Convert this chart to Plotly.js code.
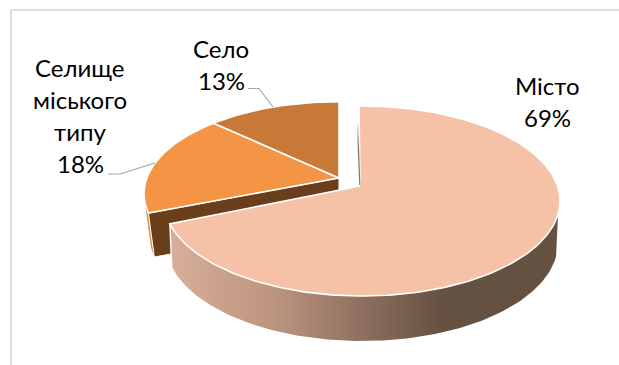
<!DOCTYPE html>
<html>
<head>
<meta charset="utf-8">
<script src="https://cdn.plot.ly/plotly-3.0.1.min.js"></script>
<style>html,body{margin:0;padding:0;background:#fff}</style>
</head>
<body>
<div id="chart" style="width:619px;height:365px"></div>
<script>
// Settlement shares, clockwise from twelve o'clock
const categories = ['Місто', 'Селище<br>міського<br>типу', 'Село'];
const shares = [69, 18, 13];
const faceColors = ['#F6C2A7', '#F39545', '#C77A38'];
const cutColor = '#6B3E1B';
const leaderColor = '#A6A6A6';

const total = shares.reduce((a, b) => a + b, 0);
const startDeg = [0];
shares.forEach((v, i) => startDeg.push(startDeg[i] + v / total * 360));

// Plotly has no tilted pie, so each disc is projected by hand: a homography
// keeps the rim elliptical while pulling the hub towards the far edge.
const frontDisc = {
  top: {cx: 362, hx: 360, cy: 201, rx: 198, ry: 95, a: 0.158, rot: -1},
  bottom: {cx: 362, hx: 360, cy: 243, rx: 196, ry: 98, a: 0.158, rot: -1}
};
const backDisc = {
  top: {cx: 339, hx: 339, cy: 193.6, rx: 195, ry: 92, a: 0.17, rot: 0},
  bottom: {cx: 340, hx: 339, cy: 238.4, rx: 190, ry: 88, a: 0.17, rot: 0}
};

function rimPoint(d, deg) {
  const t = (deg + d.rot) * Math.PI / 180, u = Math.sin(t), v = Math.cos(t);
  const w = 1 + d.a * v;
  return [d.cx + d.rx * u * Math.sqrt(1 - d.a * d.a) / w, d.cy - d.ry * (v + d.a) / w];
}
function hub(d) { return [d.hx, d.cy - d.ry * d.a]; }
function arc(d, from, to) {
  const pts = [], n = Math.max(2, Math.ceil(Math.abs(to - from)));
  for (let i = 0; i <= n; i++) pts.push(rimPoint(d, from + (to - from) * i / n));
  return pts;
}
function poly(pts, extra) {
  return Object.assign({
    type: 'scatter', mode: 'lines', hoverinfo: 'skip', showlegend: false,
    x: pts.map(p => p[0]), y: pts.map(p => p[1]), fill: 'toself',
    line: {width: 0}
  }, extra);
}
function wedge(d, from, to) { return [hub(d)].concat(arc(d, from, to), [hub(d)]); }
const rimEdge = {color: '#FFFFFF', width: 1.6};
const cutEnd = startDeg[1];
const wallStart = 108;

const traces = [];

// Far disc: outer wall sliver, cut face, then the two top faces
traces.push(poly(arc(backDisc.top, cutEnd, cutEnd + 9).concat(arc(backDisc.bottom, cutEnd + 6, cutEnd)),
  {fillcolor: '#E98D40'}));
traces.push(poly([hub(backDisc.top), rimPoint(backDisc.top, cutEnd),
                  rimPoint(backDisc.bottom, cutEnd), hub(backDisc.bottom), hub(backDisc.top)],
  {fillcolor: cutColor, line: {color: '#FFFFFF', width: 1}}));
traces.push(poly(wedge(backDisc.top, startDeg[1], startDeg[2]), {fillcolor: faceColors[1], line: rimEdge}));
traces.push(poly(wedge(backDisc.top, startDeg[2], startDeg[3]), {fillcolor: faceColors[2], line: rimEdge}));

// Near slice: shaded outer wall, its pale end seam, then the top face
traces.push(poly(arc(frontDisc.top, wallStart, cutEnd).concat(arc(frontDisc.bottom, cutEnd, wallStart)), {
  fillgradient: {
    type: 'horizontal',
    colorscale: [[0, '#D8AE97'], [0.27, '#BC957F'], [0.5, '#8D6F5F'], [0.7, '#655142'], [1, '#655142']]
  }
}));
const seam = [rimPoint(frontDisc.top, cutEnd), rimPoint(frontDisc.bottom, cutEnd)];
traces.push({
  type: 'scatter', mode: 'lines', hoverinfo: 'skip', showlegend: false,
  x: seam.map(p => p[0]), y: seam.map(p => p[1]), line: {color: '#FFFFFF', width: 1.4}
});
traces.push(poly(wedge(frontDisc.top, 0, cutEnd), {fillcolor: faceColors[0], line: rimEdge}));

// Cut face of the near slice, seen almost edge-on
const sliverX = [356.8, 358.2, 360.4, 359.2];
const sliverY = [124, 124, 185, 185];
traces.push(poly(sliverX.map((x, i) => [x, sliverY[i]]), {
  fillgradient: {type: 'vertical', colorscale: [[0, '#8C8078'], [0.6, '#7D7068'], [1, '#EDE6E1']]}
}));

// Leader lines
const leaderX = [[248, 259, 273], [108, 120, 155]];
const leaderY = [[88.5, 88.5, 107], [174, 174, 163]];
leaderX.forEach((x, i) => traces.push({
  type: 'scatter', mode: 'lines', x, y: leaderY[i], hoverinfo: 'skip', showlegend: false,
  line: {color: leaderColor, width: 1.2}
}));

// Labels: one annotation per line so the leading can be set exactly
const labelX = [547, 80, 221];
const labelFirstLineY = [85, 67, 48.5];
const lineGap = 32.3;
const annotations = [];
categories.forEach((c, i) => {
  (c + '<br>' + shares[i] + '%').split('<br>').forEach((line, k) => annotations.push({
    xref: 'x', yref: 'y', x: labelX[i], y: labelFirstLineY[i] + k * lineGap, showarrow: false,
    text: line, align: 'center',
    font: {family: 'Lato, sans-serif', size: 24, color: '#000000'}
  }));
});

// Chart area frame: left and top edges only
const frameColor = '#DDDDDD';
const shapes = [
  {type: 'line', xref: 'x', yref: 'y', x0: 11, x1: 11, y0: 10, y1: 365, line: {color: frameColor, width: 2}},
  {type: 'line', xref: 'x', yref: 'y', x0: 11, x1: 619, y0: 10, y1: 10, line: {color: frameColor, width: 2}}
];

Plotly.newPlot('chart', traces, {
  width: 619, height: 365,
  margin: {l: 0, r: 0, t: 0, b: 0},
  paper_bgcolor: '#FFFFFF', plot_bgcolor: '#FFFFFF',
  xaxis: {range: [0, 619], visible: false, fixedrange: true},
  yaxis: {range: [365, 0], visible: false, fixedrange: true},
  annotations, shapes, showlegend: false
}, {displayModeBar: false, staticPlot: true});
</script>
</body>
</html>
